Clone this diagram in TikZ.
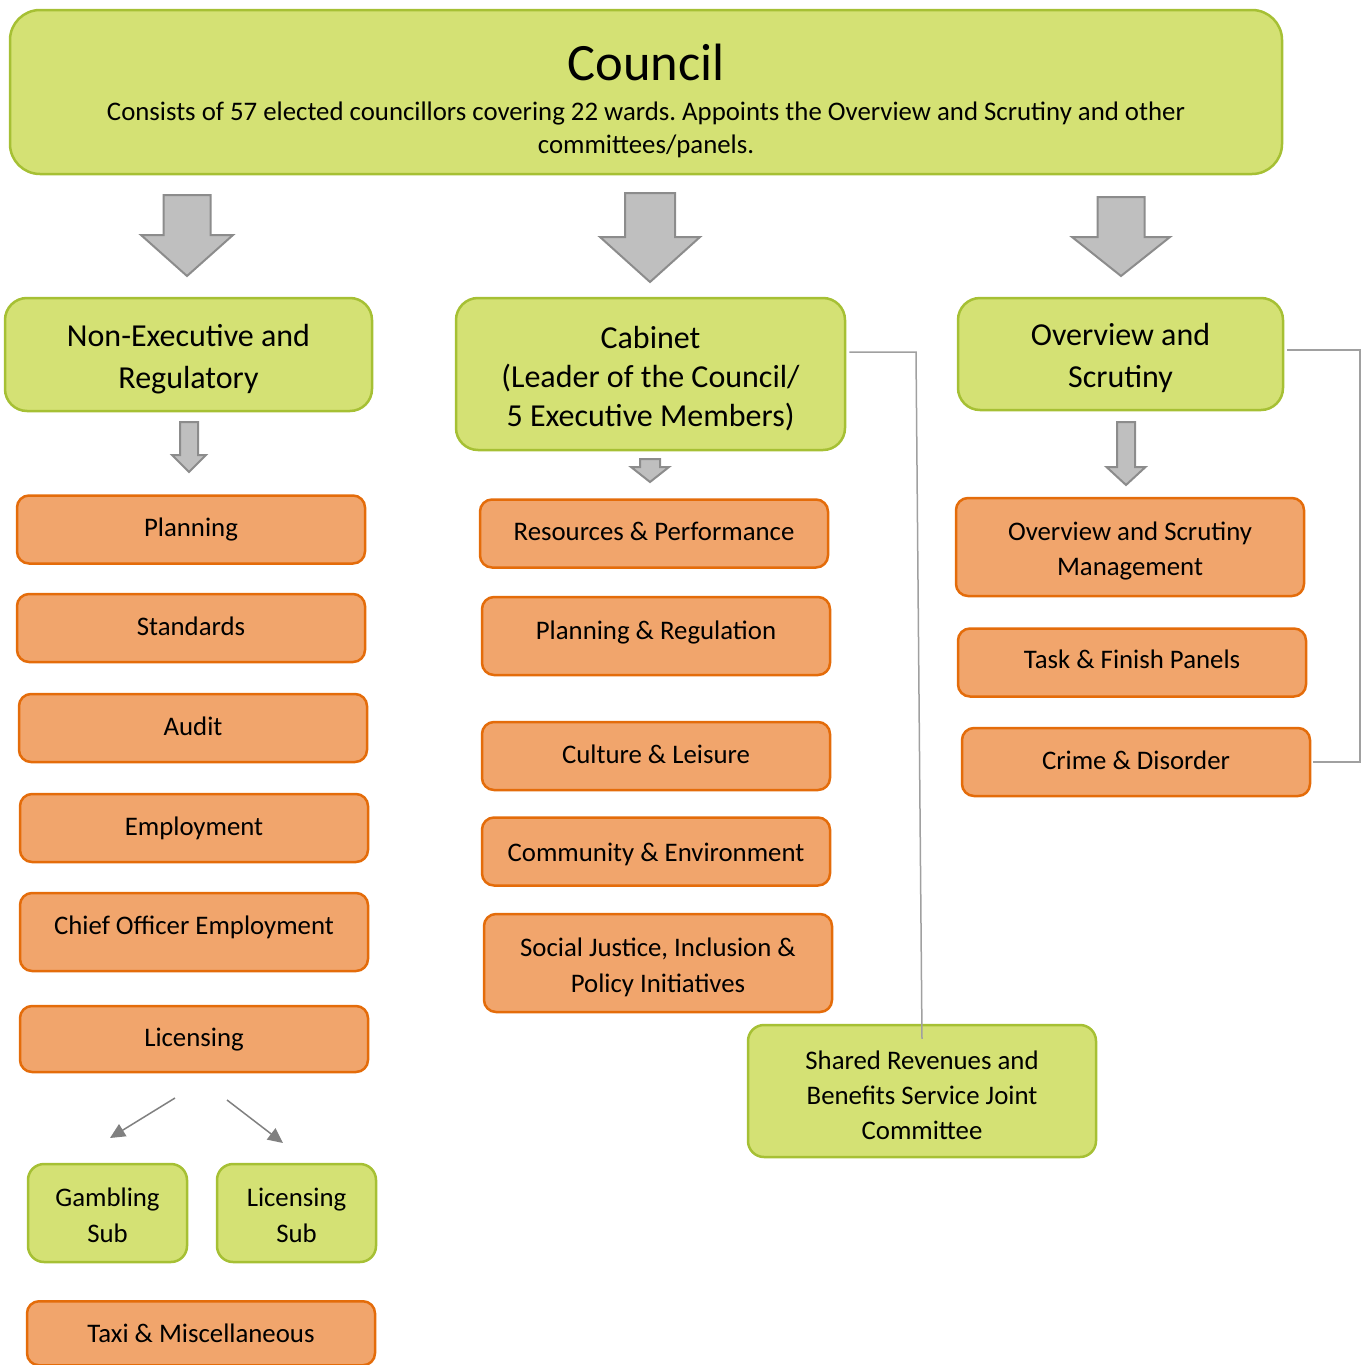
\documentclass[tikz,border=0pt]{standalone}
\usepackage{fontspec}
\setmainfont{Carlito}
\usetikzlibrary{arrows.meta}
\frenchspacing
\definecolor{gfill}{RGB}{212,225,116}
\definecolor{gline}{RGB}{166,192,52}
\definecolor{ofill}{RGB}{241,165,108}
\definecolor{oline}{RGB}{228,108,10}
\definecolor{afill}{RGB}{191,191,191}
\definecolor{aline}{RGB}{140,140,140}
\definecolor{cline}{RGB}{160,160,160}
\newcommand\blkarrow[6]{\draw[barrow] ({#1-#2},#3) -- ({#1+#2},#3) -- ({#1+#2},#4) -- ({#1+#5},#4) -- (#1,#6) -- ({#1-#5},#4) -- ({#1-#2},#4) -- cycle;}
\newcommand\lowr[1]{\rule{0pt}{#1pt}}
\tikzset{
 base/.style={draw, line width=2.5pt, align=center, inner sep=0pt},
 gbox/.style={base, fill=gfill, draw=gline, rounded corners=22pt, font=\fontsize{32}{42}\selectfont},
 sgbox/.style={base, fill=gfill, draw=gline, rounded corners=16pt, font=\fontsize{26.8}{36}\selectfont},
 obox/.style={base, fill=ofill, draw=oline, rounded corners=12pt, font=\fontsize{26.8}{35.5}\selectfont},
 oone/.style={obox, text height=17pt, text depth=3pt},
 barrow/.style={fill=afill, draw=aline, line width=2pt, line join=miter},
 conn/.style={draw=cline, line width=1.5pt},
 tarrow/.style={draw=gray, line width=1.5pt, -{Triangle[length=15pt,width=14pt]}},
}
\begin{document}
\begin{tikzpicture}[x=1pt,y=-1pt]
\useasboundingbox (0,0) rectangle (1368,1365);
\clip (0,0) rectangle (1368,1365);
% Council
\node[base, fill=gfill, draw=gline, rounded corners=30pt, minimum width=1272, minimum height=164] (council) at (646,92) {};
\node[font=\fontsize{52.5}{60}\selectfont, inner sep=0pt] (ctitle) at (646,62) {Council};
\node[font=\fontsize{26.8}{33}\selectfont, align=center, inner sep=0pt] (csub) at (646,130) {Consists of 57 elected councillors covering 22 wards. Appoints the Overview and Scrutiny and other\\committees/panels.};
% big arrows
\blkarrow{187}{23.5}{195}{235}{46}{276}
\blkarrow{650}{25}{193}{237}{50}{282}
\blkarrow{1121}{23.5}{197}{237}{49}{276}
% second level
\node[gbox, minimum width=367, minimum height=113] (nonexec) at (188.5,354.5) {\lowr{31}Non-Executive and\\Regulatory};
\node[gbox, minimum width=389, minimum height=152, font=\fontsize{32}{39}\selectfont] (cab) at (650.5,374) {\lowr{32}Cabinet\\(Leader of the Council/\\5 Executive Members)};
\node[gbox, minimum width=325, minimum height=112] (os) at (1120.5,354) {\lowr{31}Overview and\\Scrutiny};
% small arrows
\blkarrow{189}{9}{422}{455}{17}{472}
\blkarrow{650}{10}{459}{467}{19}{482}
\blkarrow{1126}{9}{422}{467}{19.5}{485}
% left column
\node[oone, minimum width=348, minimum height=68] (plan) at (191,529.5) {Planning};
\node[oone, minimum width=348, minimum height=68] (stand) at (191,628) {Standards};
\node[oone, minimum width=348, minimum height=68] (audit) at (193,728) {Audit};
\node[oone, minimum width=348, minimum height=68] (employ) at (194,828) {Employment};
\node[oone, minimum width=348, minimum height=78, text height=12pt, text depth=8pt] (chief) at (194,932) {Chief Officer Employment};
\node[oone, minimum width=348, minimum height=66] (lic) at (194,1039) {Licensing};
\node[sgbox, minimum width=159, minimum height=98] (gamb) at (107.5,1213) {\lowr{23}Gambling\\Sub};
\node[sgbox, minimum width=159, minimum height=98] (licsub) at (296.5,1213) {\lowr{23}Licensing\\Sub};
\node[oone, minimum width=348, minimum height=64, anchor=north, text height=19pt, text depth=1pt] (taxi) at (201,1300) {Taxi \& Miscellaneous};
\coordinate (l1) at (175,1098); \coordinate (l1e) at (110,1138);
\coordinate (l2) at (227,1100); \coordinate (l2e) at (283,1143);
\draw[tarrow] (l1) -- (l1e);
\draw[tarrow] (l2) -- (l2e);
% middle column
\node[oone, minimum width=348, minimum height=68] (res) at (654,533.5) {Resources \& Performance};
\node[oone, minimum width=348, minimum height=78, text height=13pt, text depth=7pt] (preg) at (656,636) {Planning \& Regulation};
\node[oone, minimum width=348, minimum height=68] (cult) at (656,756) {Culture \& Leisure};
\node[oone, minimum width=348, minimum height=68, text height=20pt, text depth=0pt] (comm) at (656,851.5) {Community \& Environment};
\node[obox, minimum width=348, minimum height=98] (soc) at (658,963) {\lowr{27}Social Justice, Inclusion \&\\Policy Initiatives};
\node[sgbox, minimum width=348, minimum height=132, font=\fontsize{26.8}{35}\selectfont] (shared) at (922,1091) {\lowr{27}Shared Revenues and\\Benefits Service Joint\\Committee};
% right column
\node[obox, minimum width=348, minimum height=98] (osm) at (1130,547) {\lowr{27}Overview and Scrutiny\\Management};
\node[oone, minimum width=348, minimum height=68, text height=16pt, text depth=4pt] (task) at (1132,662.5) {Task \& Finish Panels};
\node[oone, minimum width=348, minimum height=68] (crime) at (1136,762) {Crime \& Disorder};
% connectors
\coordinate (c1) at (916,352);
\draw[conn] ([xshift=3pt]cab.east |- c1) -- (c1) -- ([yshift=-15pt]shared.north);
\coordinate (c2) at (1360,350);
\draw[conn] ([xshift=3pt]os.east |- c2) -- (c2) |- ([xshift=2pt]crime.east);
\end{tikzpicture}
\end{document}
